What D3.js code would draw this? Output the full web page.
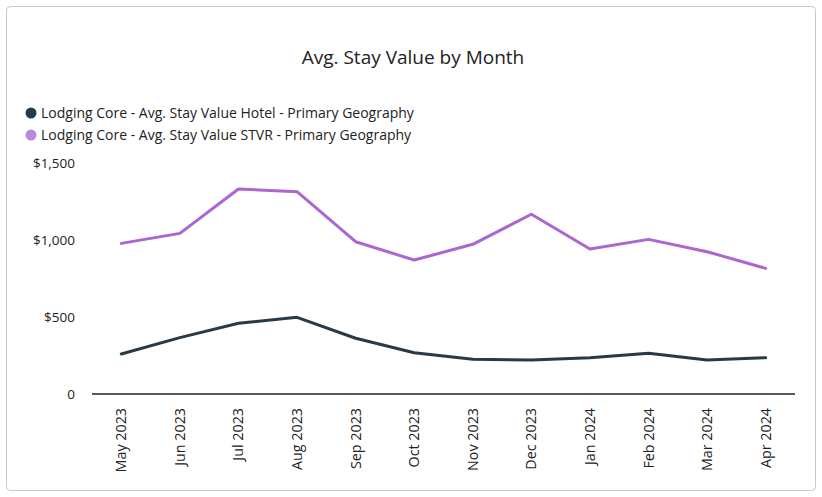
<!DOCTYPE html>
<html>
<head>
<meta charset="utf-8">
<script src="https://cdn.jsdelivr.net/npm/d3@7"></script>
<style>
  body { margin: 0; background: #fff; }
  svg { display: block; font-family: "Open Sans", sans-serif; }
</style>
</head>
<body>
<div id="chart"></div>
<script>
// data
var months = ["May 2023", "Jun 2023", "Jul 2023", "Aug 2023", "Sep 2023", "Oct 2023",
              "Nov 2023", "Dec 2023", "Jan 2024", "Feb 2024", "Mar 2024", "Apr 2024"];
var hotelValues = [260, 366, 459, 498, 362, 268, 225, 221, 236, 264, 221, 236];
var stvrValues = [978, 1043, 1331, 1314, 989, 870, 972, 1167, 942, 1004, 924, 816];
var yTicks = [0, 500, 1000, 1500];
var seriesNames = ["Lodging Core - Avg. Stay Value Hotel - Primary Geography",
                   "Lodging Core - Avg. Stay Value STVR - Primary Geography"];

var width = 822, height = 497;
var margin = {top: 163, right: 27, bottom: 103, left: 92};

var svg = d3.select("#chart").append("svg")
  .attr("width", width)
  .attr("height", height);

// card frame
svg.append("rect")
  .attr("x", 6.5).attr("y", 6.5)
  .attr("width", 809).attr("height", 484)
  .attr("rx", 4)
  .attr("fill", "#fff")
  .attr("stroke", "#c8c8c8");

svg.append("text")
  .attr("x", 413).attr("y", 64)
  .attr("text-anchor", "middle")
  .attr("font-size", 19)
  .attr("fill", "#222")
  .text("Avg. Stay Value by Month");

var colors = ["#2a3a44", "#ac66d2"];
var dotColors = ["#1f3d4a", "#b889df"];

var legend = svg.selectAll(".leg")
  .data(seriesNames)
  .enter().append("g")
  .attr("transform", function(d, i) { return "translate(31," + (113 + i * 22) + ")"; });
legend.append("circle")
  .attr("r", 5.5)
  .attr("fill", function(d, i) { return dotColors[i]; });
legend.append("text")
  .attr("x", 10).attr("y", 5)
  .attr("font-size", 14)
  .attr("fill", "#222")
  .text(function(d) { return d; });

var x = d3.scalePoint()
  .domain(months)
  .range([margin.left, width - margin.right])
  .padding(0.5);

var y = d3.scaleLinear()
  .domain([0, 1500])
  .range([height - margin.bottom, margin.top]);

// y labels
svg.selectAll(".ytick")
  .data(yTicks)
  .enter().append("text")
  .attr("x", 75)
  .attr("y", function(d) { return y(d) + 5; })
  .attr("text-anchor", "end")
  .attr("font-size", 13.5)
  .attr("fill", "#222")
  .text(function(d) { return d === 0 ? "0" : "$" + d3.format(",")(d); });

// baseline
svg.append("line")
  .attr("x1", margin.left).attr("x2", width - margin.right)
  .attr("y1", y(0)).attr("y2", y(0))
  .attr("stroke", "#222")
  .attr("stroke-width", 1.5);

// x labels
svg.selectAll(".xtick")
  .data(months)
  .enter().append("text")
  .attr("transform", function(d) { return "translate(" + (x(d) + 5) + "," + (y(0) + 14) + ") rotate(-90)"; })
  .attr("text-anchor", "end")
  .attr("font-size", 14.3)
  .attr("fill", "#222")
  .text(function(d) { return d; });

var line = d3.line()
  .x(function(d, i) { return x(months[i]); })
  .y(function(d) { return y(d); });

[hotelValues, stvrValues].forEach(function(vals, i) {
  svg.append("path")
    .datum(vals)
    .attr("d", line)
    .attr("fill", "none")
    .attr("stroke", colors[i])
    .attr("stroke-width", 3)
    .attr("stroke-linejoin", "round")
    .attr("stroke-linecap", "round");
});
</script>
</body>
</html>
